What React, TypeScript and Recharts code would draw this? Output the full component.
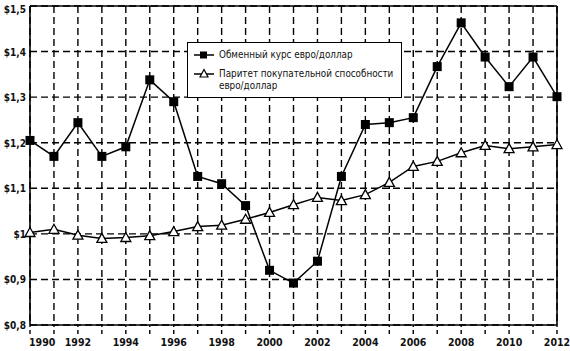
import React from 'react';
import { LineChart, Line, XAxis, YAxis, CartesianGrid, ReferenceLine } from 'recharts';

const years = [1990,1991,1992,1993,1994,1995,1996,1997,1998,1999,2000,2001,2002,2003,2004,2005,2006,2007,2008,2009,2010,2011,2012];
const exchangeRate = [1.205,1.170,1.244,1.170,1.191,1.338,1.290,1.126,1.110,1.062,0.920,0.892,0.940,1.126,1.240,1.244,1.255,1.367,1.463,1.388,1.323,1.388,1.301];
const ppp = [1.003,1.010,0.997,0.990,0.992,0.996,1.005,1.016,1.019,1.032,1.047,1.064,1.080,1.073,1.086,1.113,1.148,1.159,1.178,1.194,1.187,1.191,1.196];
const yTicks = [0.8,0.9,1.0,1.1,1.2,1.3,1.4,1.5];
const seriesNames = ['Обменный курс евро/доллар', 'Паритет покупательной способности евро/доллар'];

const data = years.map((y, i) => ({ year: y, rate: exchangeRate[i], ppp: ppp[i] }));

const FONT = '"DejaVu Sans Condensed", "DejaVu Sans", sans-serif';

const fmtY = (v: number) => {
  const r = Math.round(v * 10) / 10;
  if (Math.abs(r - 1) < 1e-9) return '$1';
  return '$' + r.toFixed(1).replace('.', ',');
};

const SquareDot = (props: any) => {
  const { cx, cy } = props;
  if (cx == null || cy == null) return null;
  return <rect x={cx - 4.5} y={cy - 4.5} width={9} height={9} fill="#000" />;
};

const TriDot = (props: any) => {
  const { cx, cy } = props;
  if (cx == null || cy == null) return null;
  const s = 5;
  return (
    <polygon
      points={`${cx},${cy - s} ${cx - s},${cy + s * 0.8} ${cx + s},${cy + s * 0.8}`}
      fill="#fff"
      stroke="#000"
      strokeWidth={1.3}
    />
  );
};

const XTick = (props: any) => {
  const { x, y, payload, index } = props;
  const v = payload.value;
  if (v % 2 !== 0) return null;
  const anchor = index === 0 ? 'start' : 'middle';
  const dx = index === 0 ? -1 : 0;
  return (
    <text x={x + dx} y={y + 10} textAnchor={anchor} fontFamily={FONT} fontSize={10.5} fontWeight="bold" fill="#111">
      {v}
    </text>
  );
};

const YTick = (props: any) => {
  const { y, payload } = props;
  return (
    <text x={26} y={y + 4} textAnchor="end" fontFamily={FONT} fontSize={10} fontWeight="bold" fill="#111">
      {fmtY(payload.value)}
    </text>
  );
};

const LegendBox = () => (
  <div
    style={{
      position: 'absolute',
      left: 187,
      top: 42,
      width: 215,
      height: 56,
      border: '1.5px solid #000',
      background: '#fff',
      boxSizing: 'border-box',
      fontFamily: FONT,
      fontSize: 9.8,
      color: '#111',
      whiteSpace: 'nowrap',
    }}
  >
    <svg width={24} height={50} style={{ position: 'absolute', left: 5, top: 0 }}>
      <line x1={1} y1={12} x2={21} y2={12} stroke="#000" strokeWidth={1.5} />
      <rect x={7} y={8.5} width={7} height={7} fill="#000" />
      <line x1={1} y1={31} x2={21} y2={31} stroke="#000" strokeWidth={1.5} />
      <polygon points="11,26.5 7,34 15,34" fill="#fff" stroke="#000" strokeWidth={1.2} />
    </svg>
    <div style={{ position: 'absolute', left: 31, top: 5, lineHeight: '13px' }}>{seriesNames[0]}</div>
    <div style={{ position: 'absolute', left: 31, top: 25, lineHeight: '12px' }}>
      Паритет покупательной способности<br />евро/доллар
    </div>
  </div>
);

export default function App() {
  return (
    <div style={{ position: 'absolute', left: 0, top: 0, width: 570, height: 351, background: '#fff' }}>
      <LineChart width={570} height={351} data={data} margin={{ top: 6, right: 13, bottom: 0, left: 0 }}>
        <CartesianGrid stroke="#000" strokeWidth={1.4} strokeDasharray="7 4" />
        <XAxis
          dataKey="year"
          type="number"
          domain={[1990, 2012]}
          ticks={years}
          interval={0}
          height={26}
          tick={<XTick />}
          tickSize={9}
          tickLine={{ stroke: '#000', strokeWidth: 1.4, strokeDasharray: '4 3' }}
          axisLine={{ stroke: '#000', strokeWidth: 1.6 }}
        />
        <YAxis
          type="number"
          domain={[0.8, 1.5]}
          ticks={yTicks}
          width={30}
          tick={<YTick />}
          tickLine={false}
          tickMargin={3}
          axisLine={{ stroke: '#000', strokeWidth: 1.6 }}
        />
        <ReferenceLine y={1.5} stroke="#000" strokeWidth={1.6} />
        <ReferenceLine x={2012} stroke="#000" strokeWidth={1.6} />
        <Line
          type="linear"
          dataKey="rate"
          name={seriesNames[0]}
          stroke="#000"
          strokeWidth={1.5}
          dot={<SquareDot />}
          isAnimationActive={false}
        />
        <Line
          type="linear"
          dataKey="ppp"
          name={seriesNames[1]}
          stroke="#000"
          strokeWidth={1.5}
          dot={<TriDot />}
          isAnimationActive={false}
        />
      </LineChart>
      <LegendBox />
    </div>
  );
}
